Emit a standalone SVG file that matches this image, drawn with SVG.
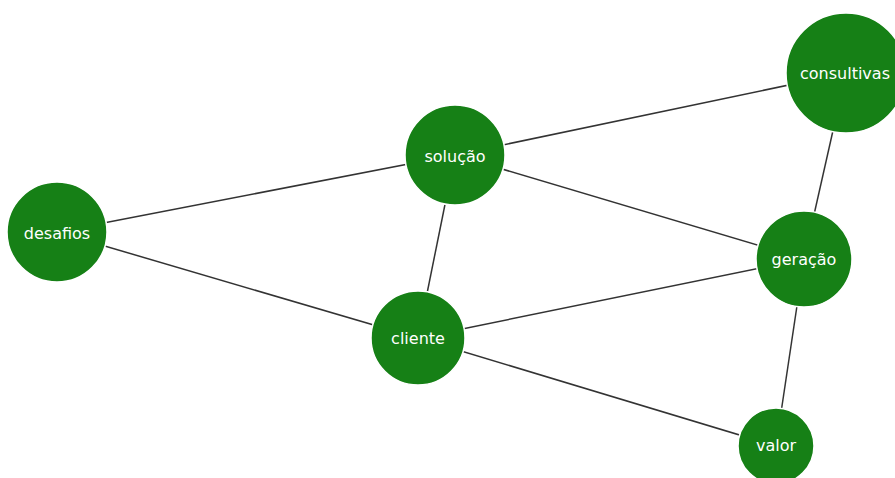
<svg xmlns="http://www.w3.org/2000/svg" width="895" height="478" viewBox="0 0 895 478">
<style>
.edge{stroke:#333;stroke-width:1.5;fill:none}
.node circle{fill:#168016;stroke:#fff;stroke-width:1.5}
.node text{fill:#fff;font-family:"DejaVu Sans",Verdana,sans-serif;font-size:16px;text-anchor:middle;dominant-baseline:central}
</style>
<rect width="895" height="478" fill="#fff"/>
<g id="edges">
<line class="edge" x1="57" y1="232" x2="455" y2="155"/>
<line class="edge" x1="57" y1="232" x2="418" y2="338"/>
<line class="edge" x1="455" y1="155" x2="846" y2="73"/>
<line class="edge" x1="455" y1="155" x2="804" y2="259"/>
<line class="edge" x1="455" y1="155" x2="418" y2="338"/>
<line class="edge" x1="846" y1="73" x2="804" y2="259"/>
<line class="edge" x1="418" y1="338" x2="804" y2="259"/>
<line class="edge" x1="418" y1="338" x2="776" y2="446"/>
<line class="edge" x1="804" y1="259" x2="776" y2="446"/>
</g>
<g id="desafios" class="node"><circle cx="57" cy="232" r="50"/><text x="57" y="233">desafios</text></g>
<g id="solucao" class="node"><circle cx="455" cy="155" r="50"/><text x="455" y="156">solução</text></g>
<g id="consultivas" class="node"><circle cx="846" cy="73" r="60"/><text x="845" y="73">consultivas</text></g>
<g id="geracao" class="node"><circle cx="804" cy="259" r="48"/><text x="804" y="259">geração</text></g>
<g id="cliente" class="node"><circle cx="418" cy="338" r="47"/><text x="418" y="338">cliente</text></g>
<g id="valor" class="node"><circle cx="776" cy="446" r="38"/><text x="776" y="445">valor</text></g>
</svg>
